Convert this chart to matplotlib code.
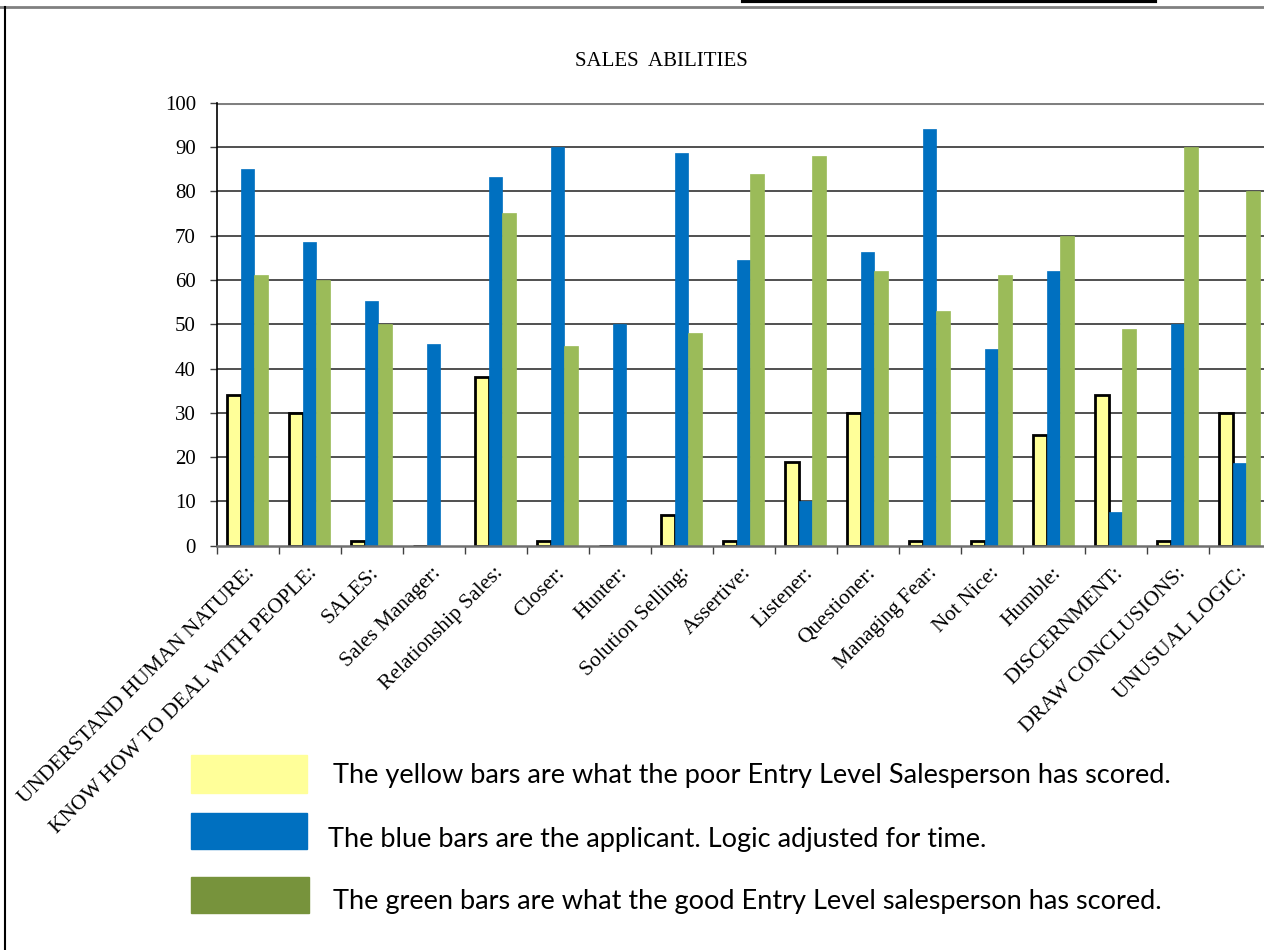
import matplotlib
matplotlib.use("Agg")
import matplotlib.pyplot as plt
from matplotlib.patches import Rectangle
from matplotlib.lines import Line2D
import matplotlib.transforms as mtransforms
import numpy as np

categories = ["UNDERSTAND HUMAN NATURE:", "KNOW HOW TO DEAL WITH PEOPLE:", "SALES:",
              "Sales Manager:", "Relationship Sales:", "Closer:", "Hunter:",
              "Solution Selling:", "Assertive:", "Listener:", "Questioner:",
              "Managing Fear:", "Not Nice:", "Humble:", "DISCERNMENT:",
              "DRAW CONCLUSIONS:", "UNUSUAL LOGIC:"]
poor_entry = [34, 30, 1, 0, 38, 1, 0, 7, 1, 19, 30, 1, 1, 25, 34, 1, 30]
applicant = [85, 68.5, 55.3, 45.6, 83.3, 90, 50, 88.6, 64.4, 10, 66.4, 94, 44.4, 62, 7.6, 50, 18.7]
good_entry = [61, 60, 50, 0, 75, 45, 0, 48, 84, 88, 62, 53, 61, 70, 49, 90, 80]
yticks = list(range(0, 101, 10))
title = "SALES  ABILITIES"
legend_texts = ["The yellow bars are what the poor Entry Level Salesperson has scored.",
                "The blue bars are the applicant. Logic adjusted for time.",
                "The green bars are what the good Entry Level salesperson has scored."]

W, H = 1264, 950
fig = plt.figure(figsize=(W / 100, H / 100), dpi=100)
serif = "Liberation Serif"

ax = fig.add_axes([216.7 / W, 1 - 545.7 / H, (1270.7 - 216.7) / W, (545.7 - 102.7) / H])
x = np.arange(len(categories))
bw = 0.218
ax.bar(x - bw, poor_entry, bw, color="#FFFF99", edgecolor="black", linewidth=2, zorder=3)
ax.bar(x, applicant, bw, color="#0070C0", edgecolor="#0070C0", linewidth=0.5, zorder=3)
ax.bar(x + bw, good_entry, bw, color="#9BBB59", edgecolor="#9BBB59", linewidth=0.5, zorder=3)

ax.set_xlim(-0.5, len(categories) - 0.5)
ax.set_ylim(0, 100)
ax.set_yticks(yticks)
ax.set_yticklabels([str(v) for v in yticks], fontfamily=serif, fontsize=15)
for v in yticks[1:-1]:
    ax.axhline(v, color="#202020", linewidth=1.1, zorder=1)
ax.axhline(100, color="#808080", linewidth=2.2, zorder=1)

ax.set_xticks(np.arange(-0.5, len(categories), 1.0))
ax.set_xticklabels([])
ax.set_xticks(x, minor=True)
ax.set_xticklabels(categories, minor=True, rotation=45, ha="right", va="top",
                   rotation_mode="anchor", fontfamily=serif, fontsize=15.5)
ax.tick_params(axis="x", which="minor", length=0, pad=13)
ax.tick_params(axis="x", which="major", length=6, width=1, color="#404040", direction="out")
ax.tick_params(axis="y", length=5, width=1, color="#404040", direction="out", pad=10)
for lab in ax.get_xticklabels(minor=True):
    lab.set_transform(lab.get_transform() + mtransforms.ScaledTranslation(-2 / 100, 0, fig.dpi_scale_trans))

ax.spines["top"].set_visible(False)
ax.spines["right"].set_visible(False)
ax.spines["left"].set_color("black")
ax.spines["left"].set_linewidth(1.2)
ax.spines["bottom"].set_color("#707070")
ax.spines["bottom"].set_linewidth(1.8)
ax.spines["bottom"].set_zorder(4)

fig.text(661 / W, 1 - 61 / H, title, ha="center", va="center", fontfamily=serif, fontsize=15)

# figure frame
fig.add_artist(Line2D([0, 1], [1 - 7 / H, 1 - 7 / H], color="#808080", linewidth=2, transform=fig.transFigure))
fig.add_artist(Line2D([5 / W, 5 / W], [0, 1 - 7 / H], color="black", linewidth=1.5, transform=fig.transFigure))
fig.add_artist(Line2D([743 / W, 1155 / W], [1 - 1 / H, 1 - 1 / H], color="black", linewidth=3, transform=fig.transFigure))

# legend
legend_colors = ["#FFFF99", "#0070C0", "#77933C"]
boxes = [(191, 755, 116, 38), (191, 813, 116, 36), (191, 877, 118, 36)]
text_pos = [(333, 775), (328, 840), (333, 901)]
for col, (bx, by, bwid, bh), (tx, ty), txt in zip(legend_colors, boxes, text_pos, legend_texts):
    fig.add_artist(Rectangle((bx / W, 1 - (by + bh) / H), bwid / W, bh / H, color=col,
                             transform=fig.transFigure))
    fig.text(tx / W, 1 - ty / H, txt, ha="left", va="center", fontfamily="Lato", fontsize=19.5)

fig.savefig("out.png", dpi=100)
